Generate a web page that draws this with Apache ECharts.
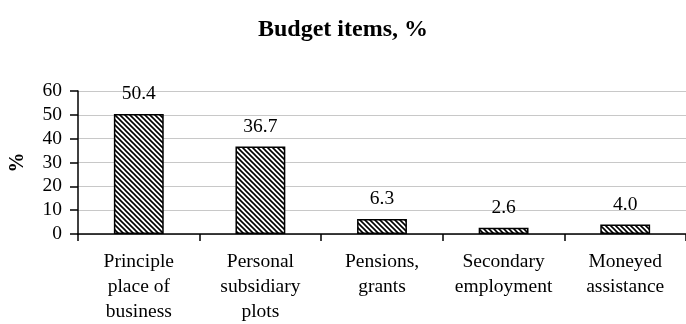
<!DOCTYPE html>
<html>
<head>
<meta charset="utf-8">
<script src="https://cdn.jsdelivr.net/npm/echarts@6/dist/echarts.min.js"></script>
<style>
html,body{margin:0;padding:0;background:#fff;}
#chart{width:686px;height:324px;}
</style>
</head>
<body>
<div id="chart"></div>
<script>
const categories = ["Principle\nplace of\nbusiness", "Personal\nsubsidiary\nplots", "Pensions,\ngrants", "Secondary\nemployment", "Moneyed\nassistance"];
const values = [50.4, 36.7, 6.3, 2.6, 4.0];
const yTicks = [0, 10, 20, 30, 40, 50, 60];
const titleText = "Budget items, %";
const yName = "%";

const FONT = "'Liberation Serif', 'Times New Roman', serif";

function hatch() {
  const s = 5;
  const c = document.createElement('canvas');
  c.width = s; c.height = s;
  const ctx = c.getContext('2d');
  ctx.fillStyle = '#fff';
  ctx.fillRect(0, 0, s, s);
  ctx.strokeStyle = '#000';
  ctx.lineWidth = 1.6;
  ctx.beginPath();
  ctx.moveTo(-1, -1); ctx.lineTo(s + 1, s + 1);
  ctx.moveTo(-1 - s, -1); ctx.lineTo(1, s + 1);
  ctx.moveTo(s - 1, -1); ctx.lineTo(2 * s + 1, s + 1);
  ctx.stroke();
  return c;
}

const chart = echarts.init(document.getElementById('chart'), null, {renderer: 'canvas'});
chart.setOption({
  animation: false,
  backgroundColor: '#fff',
  title: {
    text: titleText,
    left: 'center',
    top: 13,
    textStyle: {fontFamily: FONT, fontWeight: 'bold', fontSize: 24, color: '#000'}
  },
  grid: {left: 77, right: 0, top: 91, bottom: 87, containLabel: false},
  xAxis: {
    type: 'category',
    data: categories,
    axisLine: {lineStyle: {color: '#000', width: 1.5}},
    axisTick: {show: true, length: 7, lineStyle: {color: '#000', width: 1.5}},
    axisLabel: {fontFamily: FONT, fontSize: 19.5, color: '#000', lineHeight: 25, margin: 15, interval: 0}
  },
  yAxis: {
    type: 'value',
    min: yTicks[0],
    max: yTicks[yTicks.length - 1],
    interval: 10,
    name: yName,
    nameLocation: 'middle',
    nameRotate: 90,
    nameGap: 50,
    nameTextStyle: {fontFamily: FONT, fontWeight: 'bold', fontSize: 20, color: '#000'},
    axisLine: {show: true, lineStyle: {color: '#000', width: 1.5}},
    axisTick: {show: true, length: 8, lineStyle: {color: '#000', width: 1.5}},
    axisLabel: {fontFamily: FONT, fontSize: 19.5, color: '#000', margin: 16},
    splitLine: {show: true, lineStyle: {color: '#c8c8c8', width: 1}}
  },
  series: [{
    type: 'bar',
    data: values,
    barWidth: '41%',
    itemStyle: {
      color: {image: hatch(), repeat: 'repeat'},
      borderColor: '#000',
      borderWidth: 1.5
    },
    label: {
      show: true,
      position: 'top',
      distance: 10,
      fontFamily: FONT,
      fontSize: 19.5,
      color: '#000',
      formatter: p => p.value.toFixed(1)
    }
  }]
});
</script>
</body>
</html>
